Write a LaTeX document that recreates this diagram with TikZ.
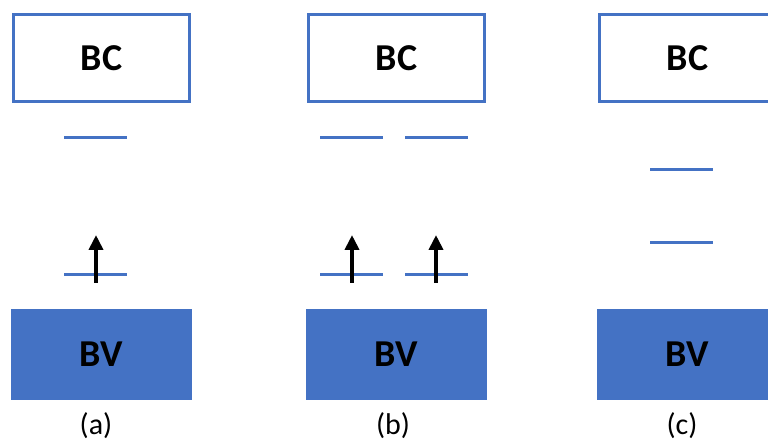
\documentclass[tikz,border=0pt]{standalone}
\usepackage{fontspec}
\setmainfont{Carlito}
\usepackage{tikz}
\usetikzlibrary{positioning, arrows.meta}

\definecolor{bandblue}{HTML}{4472C4}

\begin{document}
\begin{tikzpicture}[x=1pt, y=-1pt,
  bc/.style={draw=bandblue, line width=3pt, fill=white, minimum width=176pt, minimum height=87pt,
    inner sep=0pt, font=\fontsize{38}{44}\selectfont\bfseries},
  bv/.style={fill=bandblue, minimum width=181pt, minimum height=91pt,
    inner sep=0pt, font=\fontsize{38}{44}\selectfont\bfseries},
  lvl/.style={bandblue, line width=3pt},
  elec/.style={line width=4pt, -{Triangle[width=14pt, length=15pt]}},
  lab/.style={font=\fontsize{30}{36}\selectfont}]

\useasboundingbox (0,0) rectangle (768,443);

% --- (a) one level pair, one electron ---
\begin{scope}[xshift=0pt]
\node[bc] (bcA) at (101.5,58) {BC\hspace{10pt}};
\node[bv] (bvA) at (101.5,354.5) {BV\hspace{10pt}};
\draw[lvl] (64,138)--(127,138);
\draw[lvl] (64,275)--(127,275);
\coordinate (a1) at (96,283);
\coordinate (a2) at (96,235);
\draw[elec] (a1) -- (a2);
\node[lab] (labA) at (96,426) {(a)};
\end{scope}

% --- (b) two level pairs, two electrons ---
\begin{scope}[xshift=295pt]
\node[bc] (bcB) at (101.5,58) {BC\hspace{10pt}};
\node[bv] (bvB) at (101.5,354.5) {BV\hspace{10pt}};
\draw[lvl] (25,138)--(88,138);
\draw[lvl] (110,138)--(173,138);
\draw[lvl] (25,275)--(88,275);
\draw[lvl] (110,275)--(173,275);
\coordinate (b1) at (57,283);
\coordinate (b2) at (57,235);
\coordinate (b3) at (141,283);
\coordinate (b4) at (141,235);
\draw[elec] (b1) -- (b2);
\draw[elec] (b3) -- (b4);
\node[lab] (labB) at (98,426) {(b)};
\end{scope}

% --- (c) levels near mid gap ---
\begin{scope}[xshift=586pt]
\node[bc] (bcC) at (101.5,58) {BC\hspace{10pt}};
\node[bv] (bvC) at (101.5,354.5) {BV\hspace{10pt}};
\draw[lvl] (64,170)--(127,170);
\draw[lvl] (64,243)--(127,243);
\node[lab] (labC) at (96,426) {(c)};
\end{scope}

\end{tikzpicture}
\end{document}
